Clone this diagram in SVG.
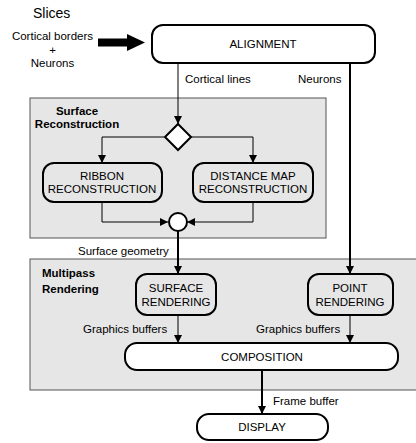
<svg xmlns="http://www.w3.org/2000/svg" width="416" height="443" viewBox="0 0 416 443">
<defs>
<style>
text{font-family:"Liberation Sans",Arial,sans-serif;font-size:11.5px;fill:#000}
.c{text-anchor:middle}
.b{font-weight:bold}
.big{font-size:14px}
.panel{fill:#e6e6e6;stroke:#555;stroke-width:1}
.node{fill:#fff;stroke:#000;stroke-width:2}
.gnode{fill:#e6e6e6;stroke:#000;stroke-width:2}
.thin{fill:none;stroke:#000;stroke-width:1}
.thick{fill:none;stroke:#000;stroke-width:2}
</style>
<marker id="ah" viewBox="0 0 8 8" refX="8" refY="4" markerWidth="8" markerHeight="8" markerUnits="userSpaceOnUse" orient="auto">
<path d="M0,0 L8,4 L0,8 z" fill="#000"/>
</marker>
</defs>
<rect fill="#fff" width="416" height="443"/>
<g id="panel-surface-reconstruction">
<rect class="panel" x="30" y="98" width="296" height="140"/>
<text class="b c" x="77" y="115">Surface</text>
<text class="b c" x="77" y="128">Reconstruction</text>
</g>
<g id="panel-multipass-rendering">
<rect class="panel" x="30" y="259" width="390" height="131"/>
<text class="b" x="42" y="277">Multipass</text>
<text class="b" x="42" y="293">Rendering</text>
</g>
<g id="input">
<text class="big" x="33" y="18">Slices</text>
<text class="c" x="52.5" y="40">Cortical borders</text>
<text class="c" x="52.5" y="54">+</text>
<text class="c" x="52.5" y="67">Neurons</text>
</g>
<g id="connectors">
<path d="M98,38.5 H127 V34 L145,42.5 L127,51 V46.5 H98 z" fill="#000"/>
<path class="thin" d="M178,63 V124" marker-end="url(#ah)"/>
<path class="thick" d="M350,63 V274" marker-end="url(#ah)"/>
<path class="thin" d="M164,137 H102 V163" marker-end="url(#ah)"/>
<path class="thin" d="M191,137 H253 V163" marker-end="url(#ah)"/>
<path class="thin" d="M102,202 V222 H168" marker-end="url(#ah)"/>
<path class="thin" d="M253,202 V222 H187" marker-end="url(#ah)"/>
<path class="thick" d="M178,231 V274" marker-end="url(#ah)"/>
<path class="thin" d="M178,315 V343" marker-end="url(#ah)"/>
<path class="thin" d="M350,315 V343" marker-end="url(#ah)"/>
<path class="thick" d="M262,370 V414" marker-end="url(#ah)"/>
<text x="185" y="83">Cortical lines</text>
<text x="298" y="83">Neurons</text>
<text x="78" y="255">Surface geometry</text>
<text x="83" y="333">Graphics buffers</text>
<text x="256" y="333">Graphics buffers</text>
<text x="273" y="405">Frame buffer</text>
</g>
<g id="alignment">
<rect class="node" x="152" y="25" width="223" height="38" rx="11"/>
<text class="c" x="263" y="48">ALIGNMENT</text>
</g>
<g id="split">
<path d="M178,124 L191,137 L178,150 L165,137 z" fill="#fff" stroke="#000" stroke-width="2"/>
</g>
<g id="ribbon-reconstruction">
<rect class="gnode" x="43" y="163" width="119" height="39" rx="11"/>
<text class="c" x="102" y="180">RIBBON</text>
<text class="c" x="102" y="193">RECONSTRUCTION</text>
</g>
<g id="distance-map-reconstruction">
<rect class="gnode" x="193" y="163" width="120" height="39" rx="11"/>
<text class="c" x="253" y="180">DISTANCE MAP</text>
<text class="c" x="253" y="193">RECONSTRUCTION</text>
</g>
<g id="merge">
<circle cx="178" cy="222" r="9" fill="#fff" stroke="#000" stroke-width="2"/>
</g>
<g id="surface-rendering">
<rect class="gnode" x="136" y="274" width="80" height="41" rx="11"/>
<text class="c" x="176" y="292">SURFACE</text>
<text class="c" x="176" y="306">RENDERING</text>
</g>
<g id="point-rendering">
<rect class="gnode" x="308" y="274" width="85" height="41" rx="11"/>
<text class="c" x="350" y="292">POINT</text>
<text class="c" x="350" y="306">RENDERING</text>
</g>
<g id="composition">
<rect class="node" x="125" y="343" width="273" height="27" rx="12"/>
<text class="c" x="262" y="361">COMPOSITION</text>
</g>
<g id="display">
<rect class="node" x="197" y="414" width="131" height="26" rx="12"/>
<text class="c" x="262" y="431">DISPLAY</text>
</g>
</svg>
